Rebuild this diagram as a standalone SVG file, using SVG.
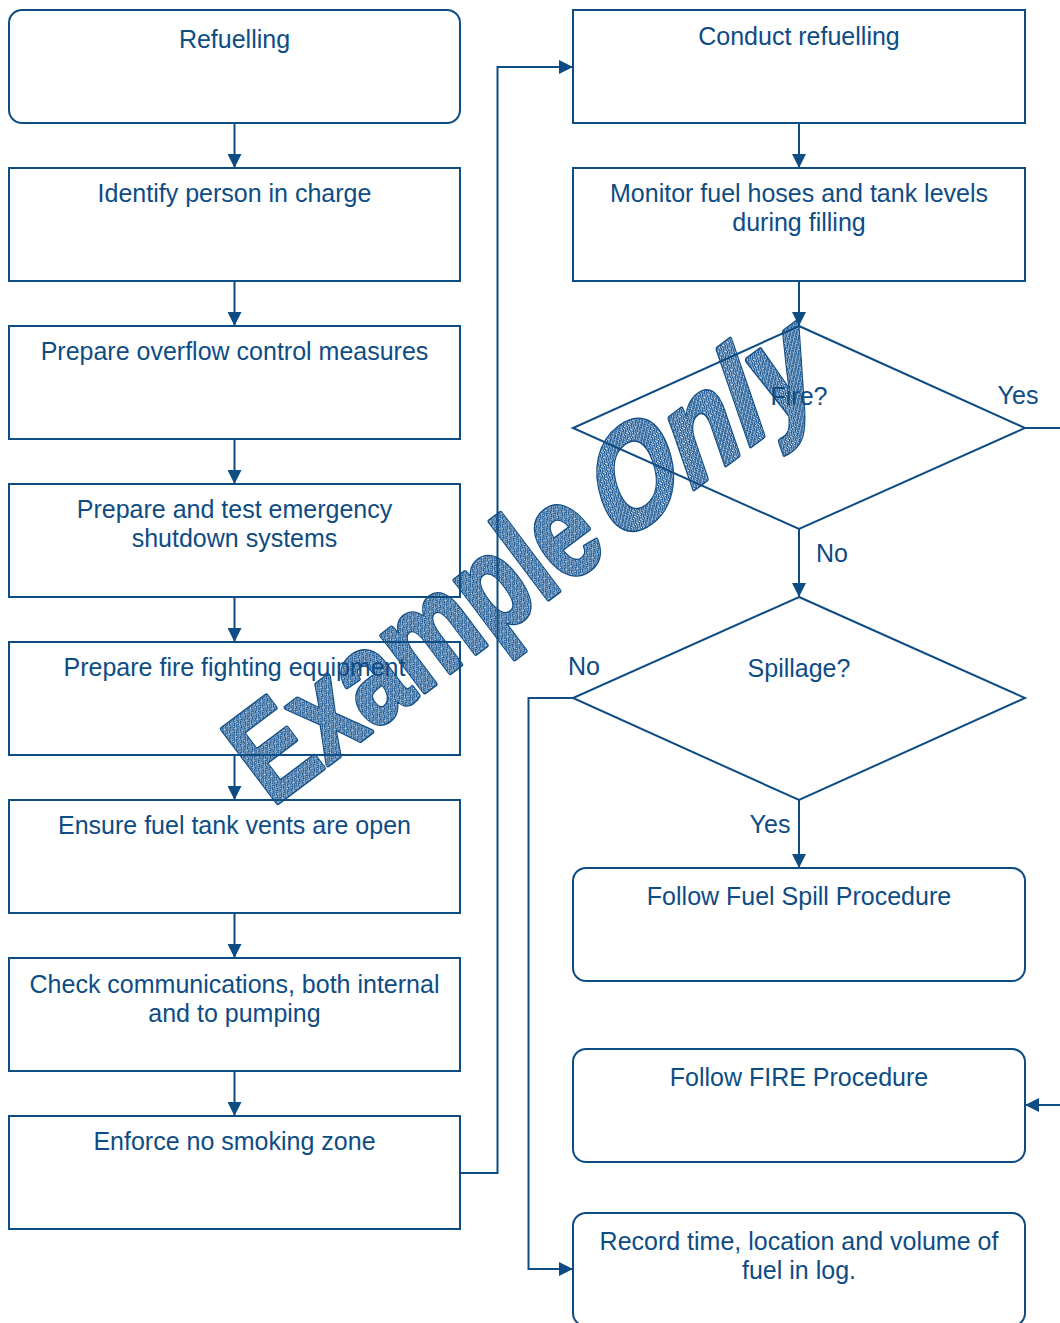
<svg xmlns="http://www.w3.org/2000/svg" width="1060" height="1323" viewBox="0 0 1060 1323">
  <style>
    .box { fill: none; stroke: #0e4c84; stroke-width: 2; }
    .lbl { font-family: "Liberation Sans", Arial, sans-serif; font-size: 25px; fill: #0e4c84; text-anchor: middle; }
    .edge { fill: none; stroke: #0e4c84; stroke-width: 2; }
    .wm { font-family: "Liberation Sans", Arial, sans-serif; font-weight: bold; font-size: 134px; }
    .wm-edge { fill: #0e4c84; stroke: #0e4c84; stroke-width: 5; stroke-linejoin: round; }
    .wm-face { fill: url(#speckle); stroke: url(#speckle); stroke-width: 2.4; stroke-linejoin: round; }
  </style>
  <defs>
    <marker id="arrow" markerUnits="userSpaceOnUse" markerWidth="14" markerHeight="14" refX="14" refY="7" orient="auto">
      <path d="M0,0 L14,7 L0,14 Z" fill="#0e4c84"/>
    </marker>
    <!-- stippled fill for the watermark lettering -->
    <pattern id="speckle" patternUnits="userSpaceOnUse" width="6" height="6">
      <rect width="6" height="6" fill="#245f98"/>
      <rect x="0" y="0" width="1" height="1" fill="#fff"/>
      <rect x="3" y="1" width="1" height="1" fill="#fff"/>
      <rect x="1" y="3" width="1" height="1" fill="#fff"/>
      <rect x="4" y="4" width="1" height="1" fill="#fff"/>
      <rect x="5" y="2" width="1" height="1" fill="#fff"/>
      <rect x="2" y="5" width="1" height="1" fill="#fff"/>
      <rect x="4" y="0" width="1" height="1" fill="#dfe8f2"/>
      <rect x="2" y="2" width="1" height="1" fill="#dfe8f2"/>
      <rect x="0" y="4" width="1" height="1" fill="#dfe8f2"/>
      <rect x="5" y="5" width="1" height="1" fill="#dfe8f2"/>
    </pattern>
  </defs>

  <rect width="1060" height="1323" fill="#fff"/>

  <!-- watermark: dark outline layer, then speckled face on top -->
  <g id="watermark">
    <g class="wm wm-edge">
      <text transform="translate(272,807) rotate(-37) scale(0.77,1)">Example</text>
      <text transform="translate(615,548) rotate(-37) skewX(-18) scale(0.87,1)">Only</text>
    </g>
    <g class="wm wm-face">
      <text transform="translate(272,807) rotate(-37) scale(0.77,1)">Example</text>
      <text transform="translate(615,548) rotate(-37) skewX(-18) scale(0.87,1)">Only</text>
    </g>
  </g>

  <!-- left column -->
  <g id="n-refuelling">
    <rect class="box" x="9" y="10" width="451" height="113" rx="13"/>
    <text class="lbl" x="234.5" y="47.5">Refuelling</text>
  </g>
  <g id="n-identify">
    <rect class="box" x="9" y="168" width="451" height="113"/>
    <text class="lbl" x="234.5" y="202">Identify person in charge</text>
  </g>
  <g id="n-overflow">
    <rect class="box" x="9" y="326" width="451" height="113"/>
    <text class="lbl" x="234.5" y="360">Prepare overflow control measures</text>
  </g>
  <g id="n-shutdown">
    <rect class="box" x="9" y="484" width="451" height="113"/>
    <text class="lbl" x="234.5" y="518">Prepare and test emergency</text>
    <text class="lbl" x="234.5" y="547">shutdown systems</text>
  </g>
  <g id="n-firefighting">
    <rect class="box" x="9" y="642" width="451" height="113"/>
    <text class="lbl" x="234.5" y="676">Prepare fire fighting equipment</text>
  </g>
  <g id="n-vents">
    <rect class="box" x="9" y="800" width="451" height="113"/>
    <text class="lbl" x="234.5" y="834">Ensure fuel tank vents are open</text>
  </g>
  <g id="n-comms">
    <rect class="box" x="9" y="958" width="451" height="113"/>
    <text class="lbl" x="234.5" y="993">Check communications, both internal</text>
    <text class="lbl" x="234.5" y="1022">and to pumping</text>
  </g>
  <g id="n-nosmoking">
    <rect class="box" x="9" y="1116" width="451" height="113"/>
    <text class="lbl" x="234.5" y="1150">Enforce no smoking zone</text>
  </g>

  <!-- right column -->
  <g id="n-conduct">
    <rect class="box" x="573" y="10" width="452" height="113"/>
    <text class="lbl" x="799" y="44.5">Conduct refuelling</text>
  </g>
  <g id="n-monitor">
    <rect class="box" x="573" y="168" width="452" height="113"/>
    <text class="lbl" x="799" y="202">Monitor fuel hoses and tank levels</text>
    <text class="lbl" x="799" y="231">during filling</text>
  </g>
  <g id="n-fire">
    <polygon class="box" points="799,326 1025,428 799,529 573,428"/>
    <text class="lbl" x="799" y="405">Fire?</text>
  </g>
  <g id="n-spillage">
    <polygon class="box" points="799,597 1025,698 799,800 573,698"/>
    <text class="lbl" x="799" y="677">Spillage?</text>
  </g>
  <g id="n-spillproc">
    <rect class="box" x="573" y="868" width="452" height="113" rx="13"/>
    <text class="lbl" x="799" y="905">Follow Fuel Spill Procedure</text>
  </g>
  <g id="n-fireproc">
    <rect class="box" x="573" y="1049" width="452" height="113" rx="13"/>
    <text class="lbl" x="799" y="1086">Follow FIRE Procedure</text>
  </g>
  <g id="n-record">
    <rect class="box" x="573" y="1213" width="452" height="113" rx="13"/>
    <text class="lbl" x="799" y="1250">Record time, location and volume of</text>
    <text class="lbl" x="799" y="1279">fuel in log.</text>
  </g>

  <!-- connectors -->
  <g id="connectors">
    <line class="edge" x1="234.5" y1="123" x2="234.5" y2="168" marker-end="url(#arrow)"/>
    <line class="edge" x1="234.5" y1="281" x2="234.5" y2="326" marker-end="url(#arrow)"/>
    <line class="edge" x1="234.5" y1="439" x2="234.5" y2="484" marker-end="url(#arrow)"/>
    <line class="edge" x1="234.5" y1="597" x2="234.5" y2="642" marker-end="url(#arrow)"/>
    <line class="edge" x1="234.5" y1="755" x2="234.5" y2="800" marker-end="url(#arrow)"/>
    <line class="edge" x1="234.5" y1="913" x2="234.5" y2="958" marker-end="url(#arrow)"/>
    <line class="edge" x1="234.5" y1="1071" x2="234.5" y2="1116" marker-end="url(#arrow)"/>
    <polyline class="edge" points="460,1173 497.5,1173 497.5,67 573,67" marker-end="url(#arrow)"/>
    <line class="edge" x1="799" y1="123" x2="799" y2="168" marker-end="url(#arrow)"/>
    <line class="edge" x1="799" y1="281" x2="799" y2="326" marker-end="url(#arrow)"/>
    <line class="edge" x1="799" y1="529" x2="799" y2="597" marker-end="url(#arrow)"/>
    <line class="edge" x1="799" y1="800" x2="799" y2="868" marker-end="url(#arrow)"/>
    <polyline class="edge" points="573,698 528.5,698 528.5,1269 573,1269" marker-end="url(#arrow)"/>
    <line class="edge" x1="1025" y1="428" x2="1062" y2="428"/>
    <line class="edge" x1="1062" y1="1105" x2="1025" y2="1105" marker-end="url(#arrow)"/>
    <text class="lbl" x="1018" y="404">Yes</text>
    <text class="lbl" x="832" y="562">No</text>
    <text class="lbl" x="584" y="675">No</text>
    <text class="lbl" x="770" y="833">Yes</text>
  </g>
</svg>
